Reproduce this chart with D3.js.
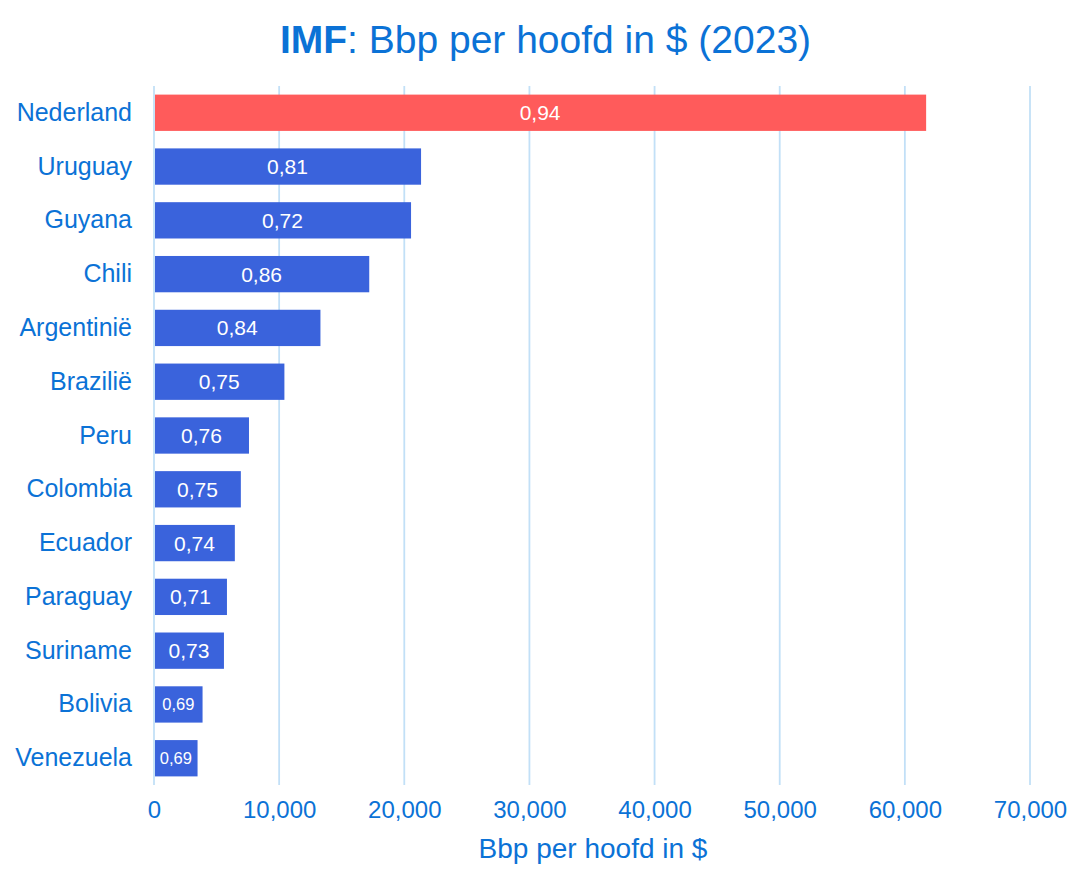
<!DOCTYPE html>
<html>
<head>
<meta charset="utf-8">
<script src="https://cdn.jsdelivr.net/npm/d3@7"></script>
<style>
  body { margin: 0; background: #fff; }
  text { font-family: "Liberation Sans", Arial, sans-serif; }
</style>
</head>
<body>
<svg id="chart"></svg>
<script>

// data
let countries = ["Nederland", "Uruguay", "Guyana", "Chili", "Argentinië", "Brazilië", "Peru",
    "Colombia", "Ecuador", "Paraguay", "Suriname", "Bolivia", "Venezuela"]
let gdp = [61700, 21340, 20540, 17200, 13300, 10420, 7590, 6940, 6460, 5830, 5590, 3880, 3480]
let hdi = ["0,94", "0,81", "0,72", "0,86", "0,84", "0,75", "0,76", "0,75", "0,74", "0,71", "0,73", "0,69", "0,69"]
let xTicks = [0, 10000, 20000, 30000, 40000, 50000, 60000, 70000]

let width = 1091,
    height = 889,
    margin = {top: 86, right: 61, bottom: 104, left: 154}

let blue = "#0b72d6"

let data = countries.map((c, i) => ({country: c, gdp: gdp[i], hdi: hdi[i]}))

let svg = d3.select("#chart")
    .attr("width", width)
    .attr("height", height)

let x = d3.scaleLinear()
    .domain([0, 70000])
    .range([margin.left, width - margin.right])

let y = d3.scaleBand()
    .domain(countries)
    .range([margin.top, height - margin.bottom])
    .paddingInner(0.325)
    .paddingOuter(0.16)

// gridlines
svg.append("g")
    .selectAll("line")
    .data(xTicks)
    .enter().append("line")
    .attr("x1", d => x(d))
    .attr("x2", d => x(d))
    .attr("y1", margin.top)
    .attr("y2", height - margin.bottom)
    .attr("stroke", "#c2e0f7")
    .attr("stroke-width", 1.8)

// bars
svg.append("g")
    .selectAll("rect")
    .data(data)
    .enter().append("rect")
    .attr("x", x(0) + 1)
    .attr("y", d => y(d.country))
    .attr("width", d => x(d.gdp) - x(0) - 1)
    .attr("height", y.bandwidth())
    .attr("fill", d => d.country == "Nederland" ? "#ff5b5b" : "#3a63dc")

// value labels
svg.append("g")
    .selectAll("text")
    .data(data)
    .enter().append("text")
    .attr("x", d => (x(0) + x(d.gdp)) / 2)
    .attr("y", d => y(d.country) + y.bandwidth() / 2)
    .attr("dy", "0.36em")
    .attr("text-anchor", "middle")
    .attr("fill", "#fff")
    .style("font-size", d => d.gdp < 5000 ? "16.5px" : "21px")
    .text(d => d.hdi)

// y axis labels
let yAxis = d3.axisLeft(y).tickSize(0).tickPadding(22)
svg.append("g")
    .attr("transform", "translate(" + margin.left + ",0)")
    .call(yAxis)
    .call(g => g.select(".domain").remove())
    .selectAll("text")
    .attr("fill", blue)
    .style("font-size", "25px")

// x axis
let xAxis = d3.axisBottom(x)
    .tickValues(xTicks)
    .tickSize(0)
    .tickPadding(16)
    .tickFormat(d3.format(","))
svg.append("g")
    .attr("transform", "translate(0," + (height - margin.bottom) + ")")
    .call(xAxis)
    .call(g => g.select(".domain").remove())
    .selectAll("text")
    .attr("fill", blue)
    .style("font-size", "24px")

svg.append("text")
    .attr("x", x(35000) + 1)
    .attr("y", 858)
    .attr("text-anchor", "middle")
    .attr("fill", blue)
    .style("font-size", "28px")
    .text("Bbp per hoofd in $")

// title
let title = svg.append("text")
    .attr("x", width / 2)
    .attr("y", 53)
    .attr("text-anchor", "middle")
    .attr("fill", blue)
    .style("font-size", "39px")
title.append("tspan").style("font-weight", "bold").text("IMF")
title.append("tspan").text(": Bbp per hoofd in $ (2023)")

</script>
</body>
</html>
